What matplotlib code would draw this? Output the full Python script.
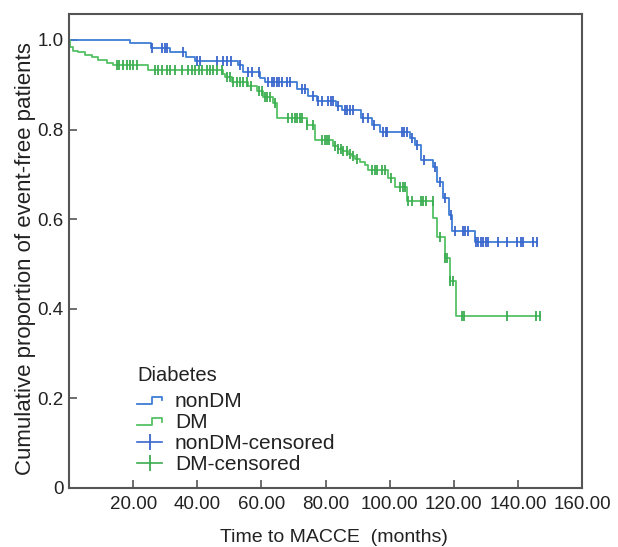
import numpy as np
import matplotlib
matplotlib.use("Agg")
import matplotlib.pyplot as plt
from matplotlib.lines import Line2D
from matplotlib.legend_handler import HandlerBase

plt.rcParams['font.family'] = ['Liberation Sans', 'DejaVu Sans']

# Kaplan-Meier steps (months, survival after the step)
nondm_time = [0, 19.0, 25.5, 31.5, 36.5, 39.3, 52.8, 54.2, 59.6, 61.1, 71.2, 74.5,
              77.4, 83.3, 85.1, 91.0, 94.4, 97.0, 106.4, 107.9, 109.8, 113.6, 114.7,
              116.6, 118.6, 119.4, 126.6]
nondm_surv = [1.0, 0.994, 0.983, 0.973, 0.962, 0.952, 0.944, 0.929, 0.914, 0.907, 0.890,
              0.875, 0.864, 0.853, 0.844, 0.825, 0.810, 0.795, 0.781, 0.766, 0.732, 0.716,
              0.684, 0.647, 0.609, 0.574, 0.548]
nondm_end = 145.9
nondm_cens = [25.8, 28.9, 29.9, 30.7, 35.7, 40.0, 40.9, 46.1, 48.1, 49.2, 50.4, 53.3,
              55.9, 57.0, 59.3, 62.2, 63.2, 63.9, 64.8, 65.6, 66.3, 67.9, 68.9, 72.6,
              73.6, 76.2, 77.8, 78.8, 80.9, 81.6, 82.4, 83.9, 86.1, 86.8, 87.6, 88.5,
              91.8, 93.4, 95.1, 98.0, 98.9, 99.3, 103.8, 104.5, 105.3, 107.0, 108.6,
              110.7, 114.2, 115.7, 117.3, 119.0, 120.4, 122.8, 123.5, 124.4, 127.0,
              127.7, 128.4, 129.2, 130.1, 130.8, 133.9, 136.7, 139.8, 140.9, 141.7,
              144.8, 145.9]

dm_time = [0, 0.3, 1.3, 2.9, 5.0, 7.1, 9.1, 11.8, 13.8, 24.7, 48.1, 48.7, 50.7, 55.9,
           58.5, 60.6, 63.7, 64.8, 74.1, 76.7, 82.4, 84.0, 85.6, 87.1, 88.2, 89.2, 90.8,
           92.3, 93.4, 99.6, 101.7, 105.5, 113.6, 114.9, 117.3, 118.8, 120.7]
dm_surv = [1.0, 0.985, 0.976, 0.972, 0.967, 0.961, 0.955, 0.949, 0.944, 0.933, 0.924,
           0.917, 0.907, 0.897, 0.885, 0.872, 0.859, 0.825, 0.810, 0.777, 0.763, 0.757,
           0.752, 0.746, 0.740, 0.735, 0.728, 0.720, 0.710, 0.691, 0.672, 0.641, 0.602,
           0.560, 0.513, 0.461, 0.384]
dm_end = 146.9
dm_cens = [14.9, 15.7, 16.9, 18.0, 19.0, 20.1, 21.1, 26.8, 27.9, 28.9, 30.5, 31.5, 33.1,
           35.1, 37.2, 38.3, 39.3, 40.4, 41.4, 43.0, 44.0, 45.0, 46.1, 47.6, 49.2, 50.2,
           51.2, 52.3, 53.3, 54.4, 55.4, 56.7, 59.4, 60.1, 61.1, 61.9, 62.7, 64.2, 68.4,
           69.5, 70.5, 71.2, 72.1, 72.6, 74.3, 76.0, 78.8, 79.9, 80.6, 81.2, 83.0, 84.0,
           84.7, 85.6, 86.6, 87.7, 88.7, 89.7, 94.4, 95.4, 96.2, 97.5, 98.6, 100.3,
           103.2, 104.1, 104.8, 105.8, 106.9, 109.7, 110.5, 111.4, 113.4, 115.7, 117.3,
           118.0, 118.8, 119.7, 122.5, 123.2, 136.7, 145.7, 146.9]

xticks = [20, 40, 60, 80, 100, 120, 140, 160]
yticks = [0, 0.2, 0.4, 0.6, 0.8, 1.0]
ytick_labels = ["0", "0.2", "0.4", "0.6", "0.8", "1.0"]

blue = "#3f7dd6"
blue_c = "#3a66cc"
green = "#55c265"
green_c = "#3cad50"


def km_at(times, surv, t):
    idx = np.searchsorted(times, t, side="right") - 1
    return np.asarray(surv)[idx]


class StepHandler(HandlerBase):
    def create_artists(self, legend, orig_handle, xdescent, ydescent, width, height,
                       fontsize, trans):
        xs = [-xdescent + f * width for f in (0, 0.6, 0.6, 1.0, 1.0)]
        ys = [-ydescent + f * height for f in (0.2, 0.2, 0.7, 0.7, 0.45)]
        ln = Line2D(xs, ys, color=orig_handle.get_color(), lw=1.3)
        ln.set_transform(trans)
        return [ln]


fig = plt.figure(figsize=(6.18, 5.47), dpi=100)
ax = fig.add_axes([0.1117, 0.1079, 0.8301, 0.8666])

for times, surv, end, cens, col, ccol in [
        (nondm_time, nondm_surv, nondm_end, nondm_cens, blue, blue_c),
        (dm_time, dm_surv, dm_end, dm_cens, green, green_c)]:
    tt = list(times) + [end]
    ss = list(surv) + [surv[-1]]
    ax.step(tt, ss, where="post", color=col, lw=1.3)
    ax.plot(cens, km_at(times, surv, cens), ls="none", marker="|", ms=7, mew=1.3,
            color=ccol)

ax.set_xlim(0, 160)
ax.set_ylim(0, 1.058)
ax.set_xticks(xticks)
ax.set_xticklabels(["%.2f" % v for v in xticks])
ax.set_yticks(yticks)
ax.set_yticklabels(ytick_labels)
ax.tick_params(direction="in", length=6, width=1.2, color="#555555", labelsize=13.5,
               labelcolor="#222222", pad=4)
ax.tick_params(axis="x", pad=6)
for sp in ax.spines.values():
    sp.set_color("#555555")
    sp.set_linewidth(1.5)

ax.set_xlabel("Time to MACCE  (months)", fontsize=14, color="#222222")
ax.set_ylabel("Cumulative proportion of event-free patients", fontsize=16,
              color="#222222")
ax.xaxis.set_label_coords(0.517, -0.087)
ax.yaxis.set_label_coords(-0.064, 0.485)

ax.text(0.1326, 0.238, "Diabetes", transform=ax.transAxes, fontsize=14.5,
        color="#222222", ha="left", va="center")

h_nondm = Line2D([], [], color=blue)
h_dm = Line2D([], [], color=green)
h_nondm_c = Line2D([], [], color=blue_c, marker="|", ms=12, mew=1.3, lw=1.2)
h_dm_c = Line2D([], [], color=green_c, marker="|", ms=12, mew=1.3, lw=1.2)
leg = ax.legend([h_nondm, h_dm, h_nondm_c, h_dm_c],
                ["nonDM", "DM", "nonDM-censored", "DM-censored"],
                handler_map={h_nondm: StepHandler(), h_dm: StepHandler()},
                fontsize=15, frameon=False, loc="upper left",
                bbox_to_anchor=(0.1326, 0.2025), borderpad=0, borderaxespad=0,
                handlelength=1.2, handletextpad=0.62, labelspacing=0.1, numpoints=1)
for txt in leg.get_texts():
    txt.set_color("#222222")

fig.savefig("out.png", dpi=100)
